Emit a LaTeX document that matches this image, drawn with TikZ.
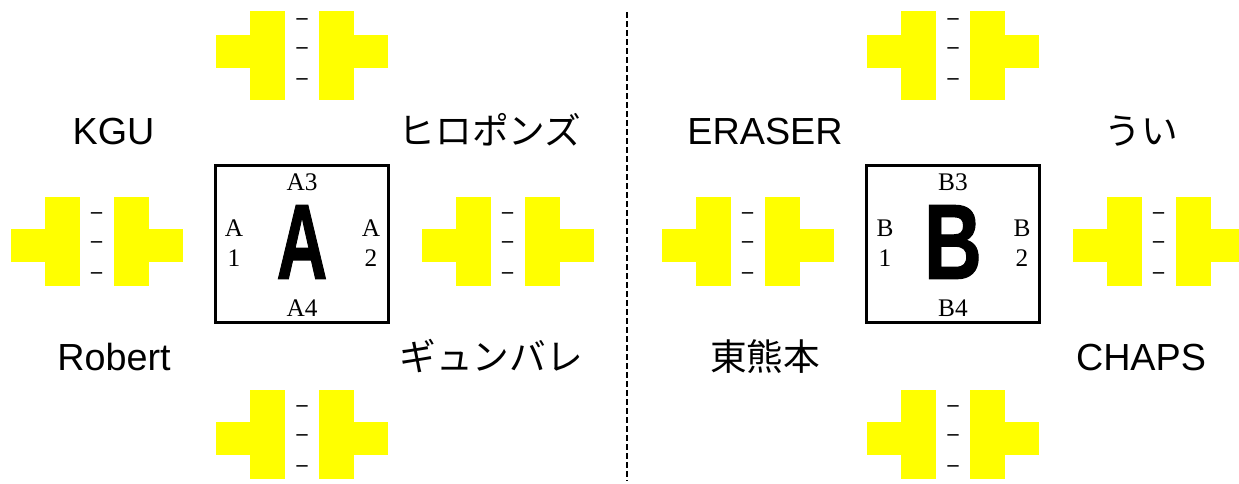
\documentclass[tikz,border=0pt]{standalone}
\usepackage{fontspec}
\newfontfamily\jpfont{Noto Sans CJK JP}
\newfontfamily\latinfont{Liberation Sans}
\newfontfamily\courtfont{Liberation Serif}
\newfontfamily\bigfont[BoldFeatures={FakeBold=1.2}]{Liberation Sans}

\tikzset{
  bench/.style={fill={rgb, 255:red, 255; green, 255; blue, 0 }, draw=none},
  court/.style={draw, line width=2.25pt, minimum width=129.75pt, minimum height=117.75pt, inner sep=0pt, outer sep=0pt},
  team/.style={font=\jpfont\fontsize{27.5}{32}\selectfont, anchor=base, inner sep=0pt},
  latinteam/.style={team, font=\latinfont\fontsize{28.3}{32}\selectfont},
  side/.style={font=\courtfont\fontsize{19}{22.5}\selectfont, align=center, inner sep=0pt},
  bigletter/.style={font=\bigfont\bfseries\fontsize{80}{80}\selectfont, inner sep=0pt},
  seat/.style={font=\courtfont\bfseries\fontsize{16.5}{16.5}\selectfont, inner sep=0pt},
}

\begin{document}
\begin{tikzpicture}[x=0.75pt,y=0.75pt,yscale=-1,xscale=1]
\useasboundingbox (0,0) rectangle (1239,483);

%benches
\foreach \cx/\t/\a/\d [count=\i] in {302/11/35/51, 96.5/197/229/245, 507.5/197/229/245, 302/390/422/438, 953/11/35/51, 747.5/197/229/245, 1158.5/197/229/245, 953/390/422/438} {
  \fill[bench] (\cx-86,\a) rectangle (\cx-17,\a+33);
  \fill[bench] (\cx-52,\t) rectangle (\cx-17,\t+89);
  \fill[bench] (\cx+17,\t) rectangle (\cx+52,\t+89);
  \fill[bench] (\cx+17,\a) rectangle (\cx+86,\a+33);
  \foreach \dy [count=\j] in {-29,0,31}
    \node[seat] (seat\i-\j) at (\cx,\d+\dy) {–};
}

%courts
\node[court] (courtA) at (302,244) {};
\node[court] (courtB) at (953,244) {};

\node[bigletter, xscale=0.66] (letterA) at (302,242) {A};
\node[bigletter, xscale=0.75] (letterB) at (953,242) {B};

\node[side, anchor=base] (a3) at (302,190) {A3};
\node[side, anchor=base] (a4) at (302,316) {A4};
\node[side] (a1) at (234,243) {A\\1};
\node[side] (a2) at (371,243) {A\\2};
\node[side, anchor=base] (b3) at (953,190) {B3};
\node[side, anchor=base] (b4) at (953,316) {B4};
\node[side] (b1) at (885,243) {B\\1};
\node[side] (b2) at (1022,243) {B\\2};

%teams
\node[latinteam] (kgu) at (113.5,144) {KGU};
\node[team] (hiropons) at (490,144) {ヒロポンズ};
\node[latinteam] (robert) at (114,370) {Robert};
\node[team] (gyunbare) at (491,370) {ギュンバレ};
\node[latinteam] (eraser) at (765,144) {ERASER};
\node[team] (ui) at (1141,144) {うい};
\node[team] (higashikumamoto) at (765,370) {東熊本};
\node[latinteam] (chaps) at (1141,370) {CHAPS};

%divider
\coordinate (divtop) at (627,12);
\coordinate (divbot) at (627,481);
\draw[line width=1.5pt, dash pattern=on 4.5pt off 2.25pt] (divtop) -- (divbot);

\end{tikzpicture}
\end{document}
